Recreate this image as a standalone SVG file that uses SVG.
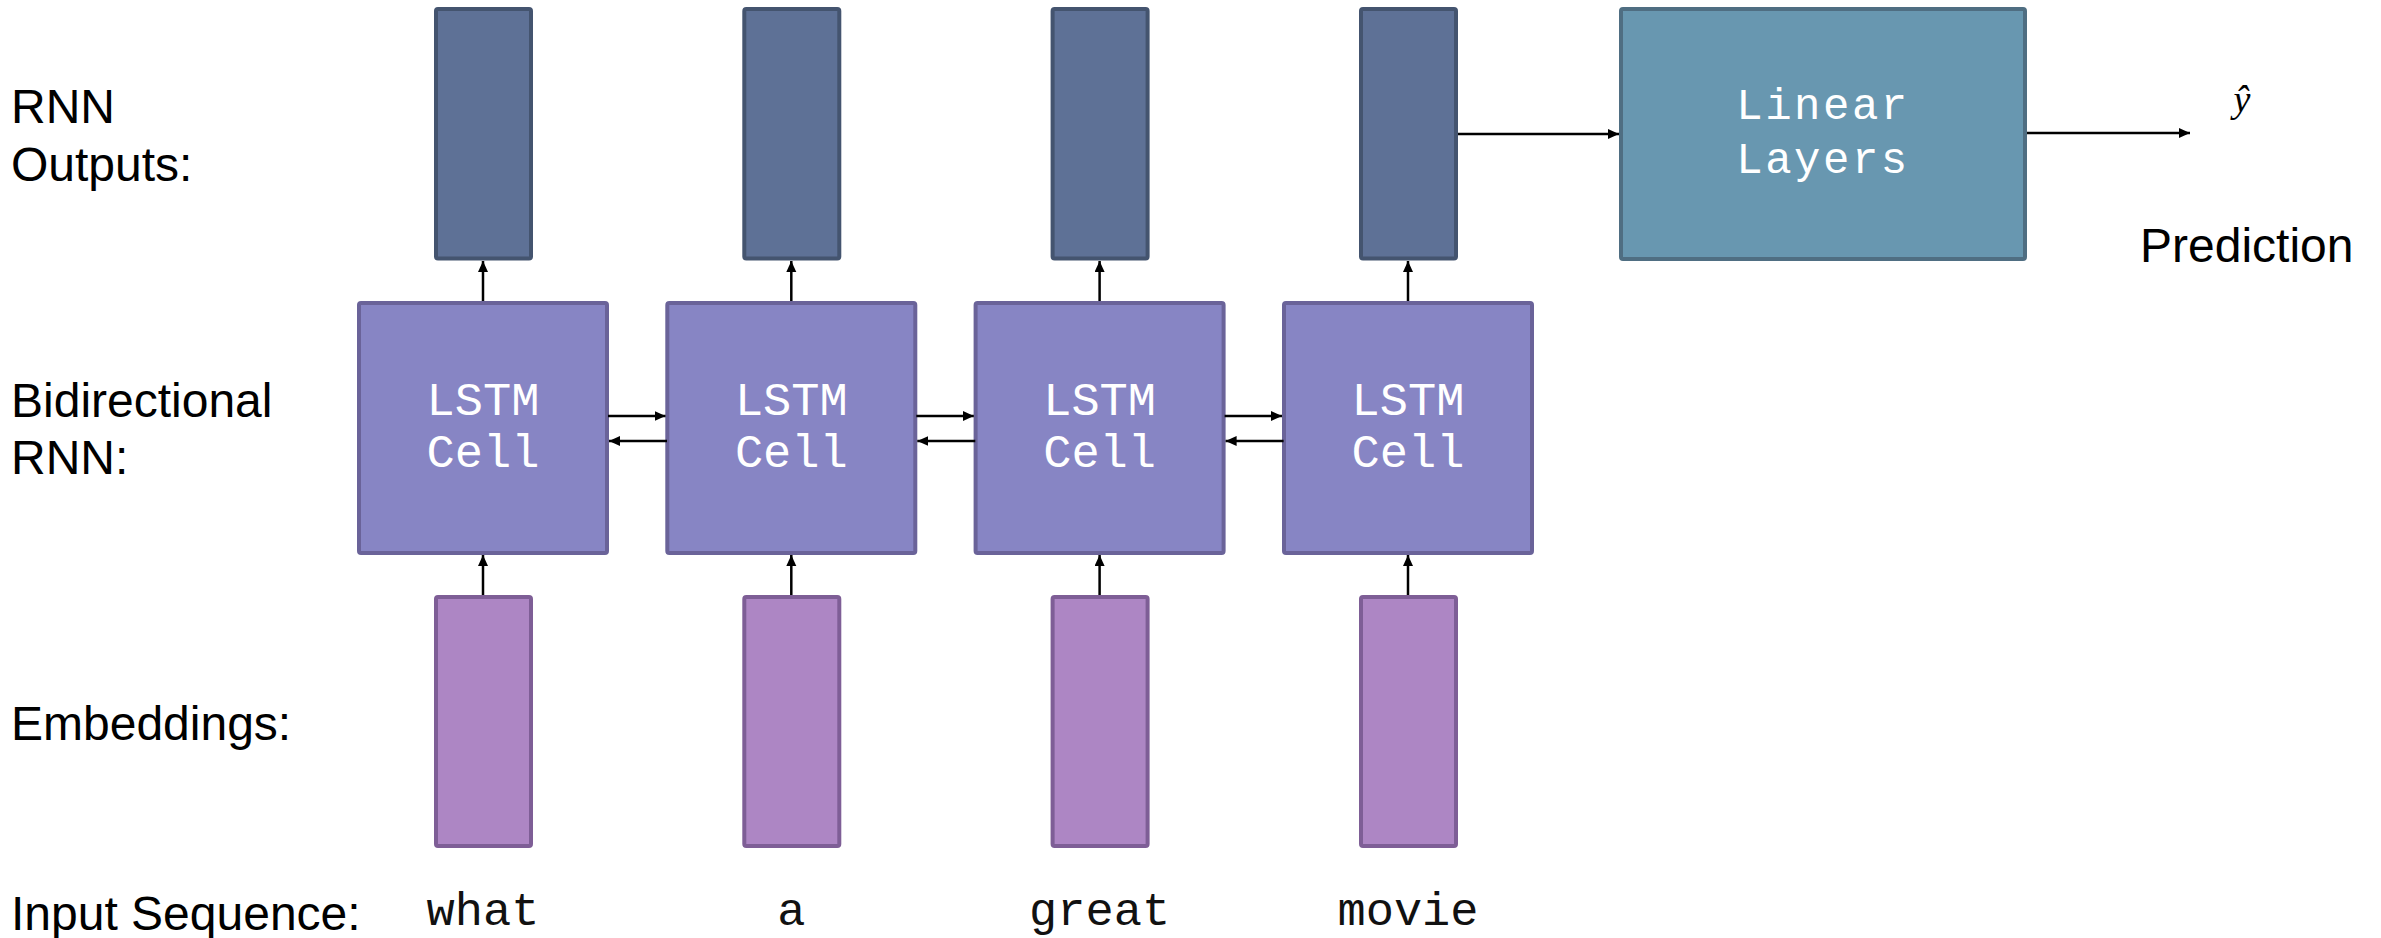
<svg xmlns="http://www.w3.org/2000/svg" width="2381" height="938" viewBox="0 0 2381 938">
  <style>
    .label { font-family: "Liberation Sans", Arial, Helvetica, sans-serif; font-size: 48px; fill: #000; }
    .mono { font-family: "Courier New", "Liberation Mono", monospace; }
    .word { font-size: 47px; fill: #111; text-anchor: middle; }
    .cell-text { font-size: 47px; fill: #fff; text-anchor: middle; }
    .lin-text { font-size: 44px; fill: #fff; text-anchor: middle; letter-spacing: 2.5px; }
    .out { fill: #5e7196; stroke: #44546f; stroke-width: 4; }
    .lstm { fill: #8785c4; stroke: #6a6399; stroke-width: 4; }
    .emb { fill: #ad86c4; stroke: #7e5e96; stroke-width: 4; }
    .linear { fill: #6897b0; stroke: #4f6e82; stroke-width: 4; }
    .conn { stroke: #000; stroke-width: 2.5; fill: none; marker-end: url(#arrow); }
  </style>
  <defs>
    <marker id="arrow" markerUnits="userSpaceOnUse" markerWidth="12" markerHeight="11" refX="11" refY="5" orient="auto">
      <path d="M0,0 L11,5 L0,10 z" fill="#000"/>
    </marker>
  </defs>

  <rect width="2381" height="938" fill="#fff"/>

  <!-- row labels -->
  <g id="row-labels">
    <text class="label" x="11" y="123">RNN</text>
    <text class="label" x="11" y="181">Outputs:</text>
    <text class="label" x="11" y="417">Bidirectional</text>
    <text class="label" x="11" y="474">RNN:</text>
    <text class="label" x="11" y="740">Embeddings:</text>
    <text class="label" x="11" y="930">Input Sequence:</text>
  </g>

  <!-- RNN output vectors -->
  <g id="output-1"><rect class="out" x="436" y="9" width="95" height="249.5" rx="2"/></g>
  <g id="output-2"><rect class="out" x="744.3" y="9" width="95" height="249.5" rx="2"/></g>
  <g id="output-3"><rect class="out" x="1052.6" y="9" width="95" height="249.5" rx="2"/></g>
  <g id="output-4"><rect class="out" x="1361" y="9" width="95" height="249.5" rx="2"/></g>

  <!-- LSTM cells -->
  <g id="lstm-1">
    <rect class="lstm" x="359" y="303" width="248" height="250" rx="2"/>
    <text class="mono cell-text" x="483" y="415">LSTM</text>
    <text class="mono cell-text" x="483" y="467">Cell</text>
  </g>
  <g id="lstm-2">
    <rect class="lstm" x="667.3" y="303" width="248" height="250" rx="2"/>
    <text class="mono cell-text" x="791.3" y="415">LSTM</text>
    <text class="mono cell-text" x="791.3" y="467">Cell</text>
  </g>
  <g id="lstm-3">
    <rect class="lstm" x="975.6" y="303" width="248" height="250" rx="2"/>
    <text class="mono cell-text" x="1099.6" y="415">LSTM</text>
    <text class="mono cell-text" x="1099.6" y="467">Cell</text>
  </g>
  <g id="lstm-4">
    <rect class="lstm" x="1284" y="303" width="248" height="250" rx="2"/>
    <text class="mono cell-text" x="1408" y="415">LSTM</text>
    <text class="mono cell-text" x="1408" y="467">Cell</text>
  </g>

  <!-- embedding vectors -->
  <g id="embedding-1"><rect class="emb" x="436" y="597" width="95" height="249" rx="2"/></g>
  <g id="embedding-2"><rect class="emb" x="744.3" y="597" width="95" height="249" rx="2"/></g>
  <g id="embedding-3"><rect class="emb" x="1052.6" y="597" width="95" height="249" rx="2"/></g>
  <g id="embedding-4"><rect class="emb" x="1361" y="597" width="95" height="249" rx="2"/></g>

  <!-- input tokens -->
  <g id="tokens">
    <text class="mono word" x="483" y="925">what</text>
    <text class="mono word" x="791.3" y="925">a</text>
    <text class="mono word" x="1099.6" y="925">great</text>
    <text class="mono word" x="1408" y="925">movie</text>
  </g>

  <!-- linear head -->
  <g id="linear-layers">
    <rect class="linear" x="1621" y="9" width="404" height="250" rx="2"/>
    <text class="mono lin-text" x="1823" y="119">Linear</text>
    <text class="mono lin-text" x="1823" y="173">Layers</text>
  </g>

  <!-- prediction -->
  <g id="prediction">
    <text x="2242" y="112" font-family="'Liberation Serif', 'Times New Roman', serif" font-style="italic" font-size="38" text-anchor="middle">ŷ</text>
    <text class="label" x="2140" y="262">Prediction</text>
  </g>

  <!-- connectors -->
  <g id="connectors">
    <!-- embedding to cell -->
    <line class="conn" x1="483" y1="595" x2="483" y2="555"/>
    <line class="conn" x1="791.3" y1="595" x2="791.3" y2="555"/>
    <line class="conn" x1="1099.6" y1="595" x2="1099.6" y2="555"/>
    <line class="conn" x1="1408" y1="595" x2="1408" y2="555"/>
    <!-- cell to output -->
    <line class="conn" x1="483" y1="301" x2="483" y2="261"/>
    <line class="conn" x1="791.3" y1="301" x2="791.3" y2="261"/>
    <line class="conn" x1="1099.6" y1="301" x2="1099.6" y2="261"/>
    <line class="conn" x1="1408" y1="301" x2="1408" y2="261"/>
    <!-- forward direction -->
    <line class="conn" x1="608" y1="416" x2="665.5" y2="416"/>
    <line class="conn" x1="916.3" y1="416" x2="973.8" y2="416"/>
    <line class="conn" x1="1224.6" y1="416" x2="1282" y2="416"/>
    <!-- backward direction -->
    <line class="conn" x1="667" y1="441" x2="609" y2="441"/>
    <line class="conn" x1="975.3" y1="441" x2="917.3" y2="441"/>
    <line class="conn" x1="1283.6" y1="441" x2="1225.6" y2="441"/>
    <!-- last output to linear head, head to prediction -->
    <line class="conn" x1="1458" y1="134" x2="1619" y2="134"/>
    <line class="conn" x1="2027" y1="133" x2="2190" y2="133"/>
  </g>
</svg>
